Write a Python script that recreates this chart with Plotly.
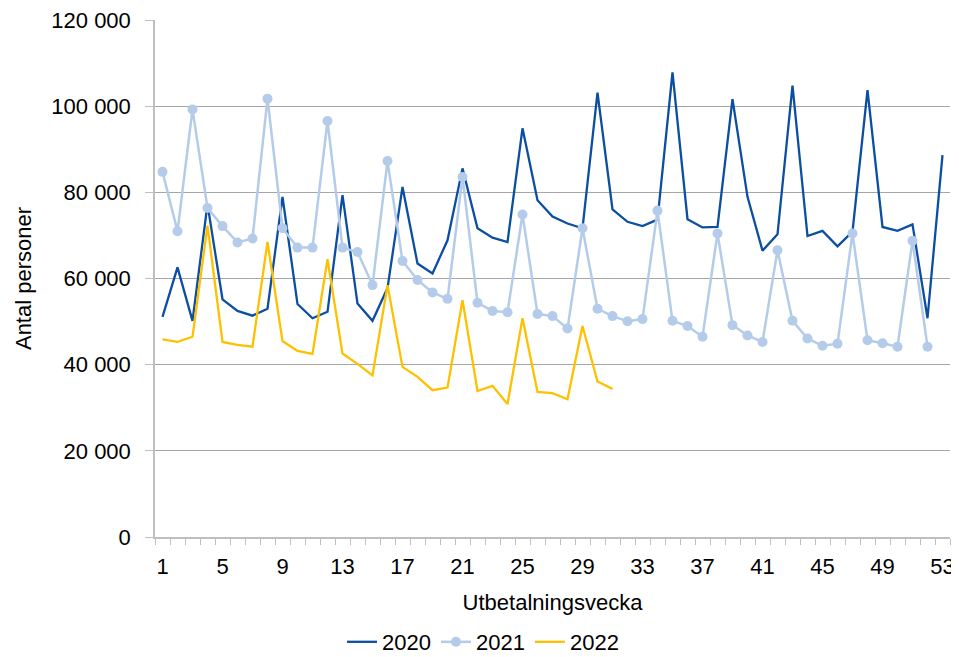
import plotly.graph_objects as go

weeks = list(range(1, 54))

y2020 = [51100, 62600, 50200, 77300, 55200, 52500, 51400, 53000, 79000, 54100,
         50800, 52300, 79400, 54200, 50200, 57800, 81300, 63500, 61200, 68900,
         85600, 71700, 69500, 68500, 94900, 78200, 74400, 72800, 71700, 103200,
         76100, 73200, 72200, 73700, 107900, 73800, 71900, 72000, 101700, 79000,
         66500, 70300, 104800, 69900, 71100, 67500, 70900, 103800, 72000, 71100,
         72600, 50800, 88700]

y2021 = [84800, 71000, 99300, 76400, 72200, 68400, 69300, 101800, 71700, 67200,
         67200, 96600, 67200, 66200, 58500, 87300, 64100, 59700, 56800, 55300,
         83600, 54400, 52500, 52200, 74900, 51800, 51300, 48400, 71700, 53000,
         51300, 50100, 50600, 75800, 50200, 49000, 46500, 70500, 49200, 46800,
         45300, 66600, 50200, 46100, 44400, 44900, 70500, 45700, 45000, 44200,
         68800, 44200]

y2022 = [45900, 45300, 46500, 72300, 45300, 44600, 44200, 68500, 45500, 43200,
         42500, 64500, 42600, 40200, 37500, 58500, 39500, 37200, 34100, 34700,
         55000, 33900, 35100, 30900, 50800, 33700, 33400, 32000, 49000, 36100,
         34400]

x_tick_labels = [str(w) for w in range(1, 54, 4)]
y_tick_vals = [0, 20000, 40000, 60000, 80000, 100000, 120000]

FONT = "Liberation Sans, Arial, sans-serif"

fig = go.Figure()
fig.add_trace(go.Scatter(x=weeks[:len(y2020)], y=y2020, name="2020", mode="lines",
                         line=dict(color="#0B4EA2", width=2.3)))
fig.add_trace(go.Scatter(x=weeks[:len(y2021)], y=y2021, name="2021", mode="lines+markers",
                         line=dict(color="#B4CCE9", width=2.5),
                         marker=dict(color="#B4CCE9", size=10)))
fig.add_trace(go.Scatter(x=weeks[:len(y2022)], y=y2022, name="2022", mode="lines",
                         line=dict(color="#FFC000", width=2.3)))

# page body has an 8px default margin; figure is sized to fill the rest of the window
fig.update_layout(
    width=951, height=649,
    margin=dict(l=147, r=9, t=12, b=120),
    paper_bgcolor="white", plot_bgcolor="white",
    font=dict(family=FONT, size=22, color="#000000"),
    separators=", ",
    showlegend=True,
    legend=dict(orientation="h", xref="container", yref="container",
                x=0.4995, y=0.0231, xanchor="center", yanchor="middle",
                font=dict(size=22), itemwidth=30, tracegroupgap=0),
    xaxis=dict(
        range=[0.5, 53.5],
        tickmode="array",
        tickvals=[int(t) for t in x_tick_labels],
        ticktext=x_tick_labels,
        ticks="",
        ticklabelstandoff=9,
        ticklabeloverflow="allow",
        showgrid=False,
        showline=True, linecolor="#BFBFBF", linewidth=1.5,
        minor=dict(tick0=0.5, dtick=1, ticks="outside", ticklen=6,
                   tickcolor="#BFBFBF", showgrid=False),
        title=dict(text="Utbetalningsvecka", font=dict(size=22), standoff=16),
        zeroline=False,
        automargin=False,
    ),
    yaxis=dict(
        range=[0, 120060],
        tickmode="array",
        tickvals=y_tick_vals,
        tickformat=",d",
        ticks="outside", ticklen=8, tickcolor="#BFBFBF",
        ticklabelstandoff=10,
        ticklabeloverflow="allow",
        showgrid=True, gridcolor="#A6A6A6", gridwidth=1,
        showline=True, linecolor="#BFBFBF", linewidth=1.5,
        zeroline=False,
        title=dict(text="Antal personer", font=dict(size=22), standoff=14),
        automargin=False,
    ),
)

fig.write_html("out.html")
